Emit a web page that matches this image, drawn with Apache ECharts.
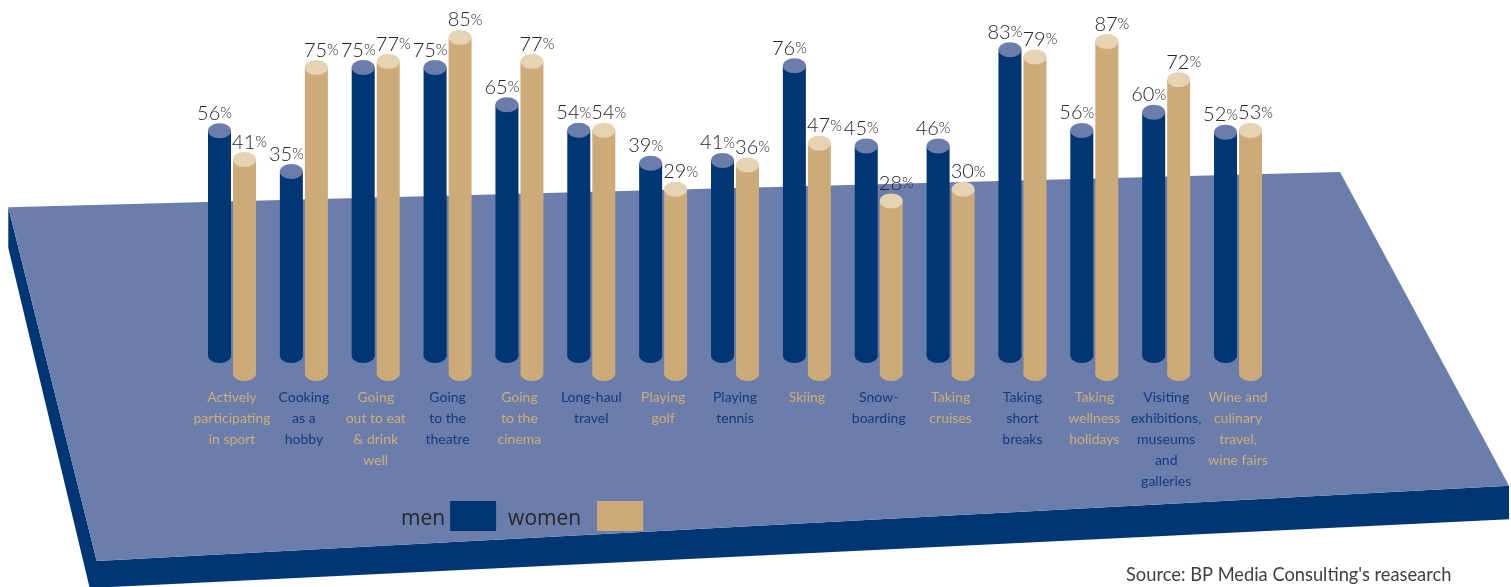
<!DOCTYPE html>
<html>
<head>
<meta charset="utf-8">
<style>html,body{margin:0;padding:0;background:#fff}#c{width:1511px;height:587px}</style>
<script src="https://cdn.jsdelivr.net/npm/echarts@6/dist/echarts.min.js"></script>
</head>
<body>
<div id="c"></div>
<script>
const categories = [
  "Actively\nparticipating\nin sport", "Cooking\nas a\nhobby", "Going\nout to eat\n& drink\nwell",
  "Going\nto the\ntheatre", "Going\nto the\ncinema", "Long-haul\ntravel", "Playing\ngolf",
  "Playing\ntennis", "Skiing", "Snow-\nboarding", "Taking\ncruises", "Taking\nshort\nbreaks",
  "Taking\nwellness\nholidays", "Visiting\nexhibitions,\nmuseums\nand\ngalleries", "Wine and\nculinary\ntravel,\nwine fairs"
];
// Percentages printed above the bars
const menLabels   = [56, 35, 75, 75, 65, 54, 39, 41, 76, 45, 46, 83, 56, 60, 52];
const womenLabels = [41, 75, 77, 85, 77, 54, 29, 36, 47, 28, 30, 79, 87, 72, 53];
// Bar tops: the source artwork is not drawn exactly to scale
const menBars   = [52.4, 36.7, 76.7, 76.7, 62.4, 52.6, 39.9, 41.0, 77.4, 46.5, 46.5, 83.6, 52.5, 59.5, 51.8];
const womenBars = [41.3, 76.7, 79.0, 88.3, 79.0, 52.6, 29.9, 39.2, 47.6, 25.4, 29.9, 80.8, 86.7, 72.0, 52.5];
const menBase = -34, womenBase = -41;

const NAVY = '#003674', TAN = '#ccab78', SLATE = '#6b7dab', TANCAP = '#e5d3b1', INK = '#262626';
const LABEL_TAN = '#cfae78', LABEL_NAVY = '#143a7c';

function cylinder(body, cap, offsetShare, labelShift) {
  return function (params, api) {
    const i = api.value(0);
    const band = api.size([1, 0])[0];
    const w = band * 0.32;
    const top = api.coord([i, api.value(1)]);
    const base = api.coord([i, api.value(2)]);
    const x = top[0] + band * offsetShare;
    const ry = 7.5;
    return {
      type: 'group',
      children: [
        { type: 'ellipse', shape: { cx: x, cy: base[1], rx: w / 2, ry: ry }, style: { fill: body } },
        { type: 'rect', shape: { x: x - w / 2, y: top[1], width: w, height: base[1] - top[1] }, style: { fill: body } },
        { type: 'ellipse', shape: { cx: x, cy: top[1], rx: w / 2, ry: ry }, style: { fill: cap } },
        { type: 'text', style: {
            x: x + labelShift, y: top[1] - 7.5,
            text: '{n|' + api.value(3) + '}{p|%}',
            align: 'center', verticalAlign: 'bottom',
            rich: {
              n: { fontFamily: 'Lato', fontWeight: 300, fontSize: 20, fill: INK, color: INK },
              p: { fontFamily: 'Lato', fontWeight: 300, fontSize: 15, fill: INK, color: INK }
            }
        } }
      ]
    };
  };
}

const chart = echarts.init(document.getElementById('c'), null, { renderer: 'canvas' });
chart.setOption({
  animation: false,
  backgroundColor: '#fff',
  title: {
    text: "Source: BP Media Consulting's reasearch",
    left: 1126, top: 566, padding: 0,
    textStyle: { fontFamily: 'Lato', fontSize: 18.3, fontWeight: 'normal', color: '#404040' }
  },
  grid: { left: 196.07, width: 1077.9, top: 7, height: 366.6 },
  xAxis: {
    type: 'category', data: categories,
    axisLine: { show: false }, axisTick: { show: false },
    axisLabel: {
      interval: 0, margin: 13, lineHeight: 21,
      fontFamily: 'Lato', fontWeight: 'normal', fontSize: 14,
      color: (v, i) => (i % 2 === 0 ? LABEL_TAN : LABEL_NAVY)
    }
  },
  yAxis: { type: 'value', min: womenBase, max: 100, show: false, splitLine: { show: false } },
  legend: {
    left: 401, top: 501, padding: 0, align: 'right', itemWidth: 46, itemHeight: 30, itemGap: 12,
    icon: 'rect',
    formatter: n => '{' + n + '|' + n + '}',
    textStyle: {
      fontFamily: 'Open Sans', fontSize: 21, color: INK,
      rich: {
        men: { fontFamily: 'Open Sans', fontSize: 21, color: INK, padding: [6, 0, 0, 0] },
        women: { fontFamily: 'Open Sans', fontSize: 21, color: INK, padding: [6, 11, 0, 0] }
      }
    },
    data: ['men', 'women']
  },
  graphic: [
    { type: 'polygon', z: -2, silent: true,
      shape: { points: [[8.3,207.3],[8.3,248],[89.7,588],[1509,519.3],[1509,485.7],[96.7,561]] },
      style: { fill: NAVY } },
    { type: 'polygon', z: -1, silent: true,
      shape: { points: [[8.3,207.3],[1340,172],[1509,485.7],[96.7,561]] },
      style: { fill: SLATE } }
  ],
  series: [
    { name: 'men', type: 'custom', clip: false, itemStyle: { color: NAVY },
      encode: { x: 0, y: 1 },
      renderItem: cylinder(NAVY, SLATE, -0.174, -5),
      data: menBars.map((v, i) => [i, v, menBase, menLabels[i]]) },
    { name: 'women', type: 'custom', clip: false, itemStyle: { color: TAN },
      encode: { x: 0, y: 1 },
      renderItem: cylinder(TAN, TANCAP, 0.174, 5),
      data: womenBars.map((v, i) => [i, v, womenBase, womenLabels[i]]) }
  ]
});
</script>
</body>
</html>
